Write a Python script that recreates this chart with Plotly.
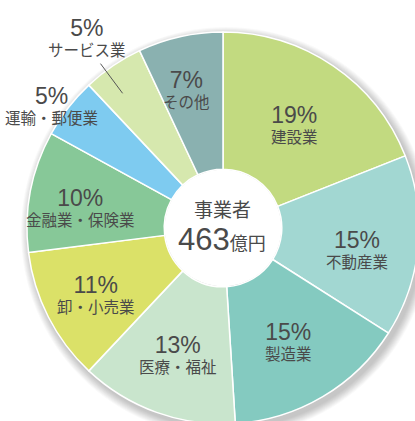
import math
import plotly.graph_objects as go

# ---- data ----
categories = ["建設業", "不動産業", "製造業", "医療・福祉", "卸・小売業",
              "金融業・保険業", "運輸・郵便業", "サービス業", "その他"]
values = [19, 15, 15, 13, 11, 10, 5, 5, 7]
pct_labels = ["19%", "15%", "15%", "13%", "11%", "10%", "5%", "5%", "7%"]
center_title = "事業者"
center_value = "463"
center_unit = "億円"

# ---- style ----
colors = ["#c2da80", "#a2d7d2", "#84cac0", "#c9e5cd", "#dbe168",
          "#87c898", "#7ecbf0", "#d6e8ae", "#8ab1b0"]
label_radius = [127, 135, 129, 132, 142, 144, 212, 236, 145]  # px from centre
label_angle_adj = [0, 3, 0, 0, 0, -2, -2, -1, -2]
txt = "#4a4a4a"

W, H = 440, 440
CX, CY, R = 223, 228, 196
HOLE = 0.30

fig = go.Figure()
fig.add_trace(go.Pie(
    labels=categories, values=values, sort=False, direction="clockwise",
    rotation=0, hole=HOLE, textinfo="none", hoverinfo="label+percent",
    marker=dict(colors=colors, line=dict(color="white", width=1.5)),
    domain=dict(x=[(CX - R) / W, (CX + R) / W], y=[1 - (CY + R) / H, 1 - (CY - R) / H]),
    showlegend=False,
))

shapes = []
# soft drop shadow
for k in range(10, 0, -1):
    rr = R + k * 0.9
    ox, oy = 3, 4
    shapes.append(dict(type="circle", xref="x", yref="y", layer="below",
                       x0=CX + ox - rr, x1=CX + ox + rr, y0=CY + oy - rr, y1=CY + oy + rr,
                       fillcolor="rgba(0,0,0,0.025)", line=dict(width=0)))
# white centre
hr = R * HOLE - 0.5
shapes.append(dict(type="circle", xref="x", yref="y", layer="above",
                   x0=CX - hr, x1=CX + hr, y0=CY - hr, y1=CY + hr,
                   fillcolor="white", line=dict(width=0)))

annotations = []
total = sum(values)
cum = 0
for i, v in enumerate(values):
    mid = (cum + v / 2) / total * 360 + label_angle_adj[i]
    cum += v
    a = math.radians(mid)
    lx = CX + label_radius[i] * math.sin(a)
    ly = CY - label_radius[i] * math.cos(a) + 2
    annotations.append(dict(
        x=lx, y=ly, xref="x", yref="y", showarrow=False,
        text=(f"<span style='font-size:23px;font-family:Liberation Sans, Arial'>{pct_labels[i]}</span>"
              f"<br>{categories[i]}"),
        font=dict(size=15.5, color=txt, family="Noto Sans CJK JP")))
    if categories[i] == "サービス業":
        a2 = math.radians(mid - 1.5)
        shapes.append(dict(type="line", xref="x", yref="y",
                           x0=CX + 168 * math.sin(a2), y0=CY - 168 * math.cos(a2),
                           x1=CX + 205 * math.sin(a2), y1=CY - 205 * math.cos(a2),
                           line=dict(color="#555555", width=1)))

annotations.append(dict(
    x=CX - 1, y=CY - 20, xref="x", yref="y", showarrow=False, text=center_title,
    font=dict(size=19, color=txt, family="Noto Sans CJK JP")))
annotations.append(dict(
    x=CX - 1, y=CY + 11, xref="x", yref="y", showarrow=False,
    text=(f"<span style='font-size:31px;font-family:Liberation Sans, Arial'>{center_value}</span>"
          f"<span style='font-size:18px'>{center_unit}</span>"),
    font=dict(size=18, color=txt, family="Noto Sans CJK JP")))

fig.update_layout(
    width=W, height=H, margin=dict(l=0, r=0, t=0, b=0),
    paper_bgcolor="white", plot_bgcolor="rgba(0,0,0,0)",
    xaxis=dict(range=[0, W], visible=False, domain=[0, 1], fixedrange=True),
    yaxis=dict(range=[H, 0], visible=False, domain=[0, 1], fixedrange=True),
    shapes=shapes, annotations=annotations,
)

fig.write_html("out.html", config={"displayModeBar": False}, post_script=(
    "document.body.style.margin='0';document.body.style.overflow='hidden';"
    "document.documentElement.style.overflow='hidden';"))
